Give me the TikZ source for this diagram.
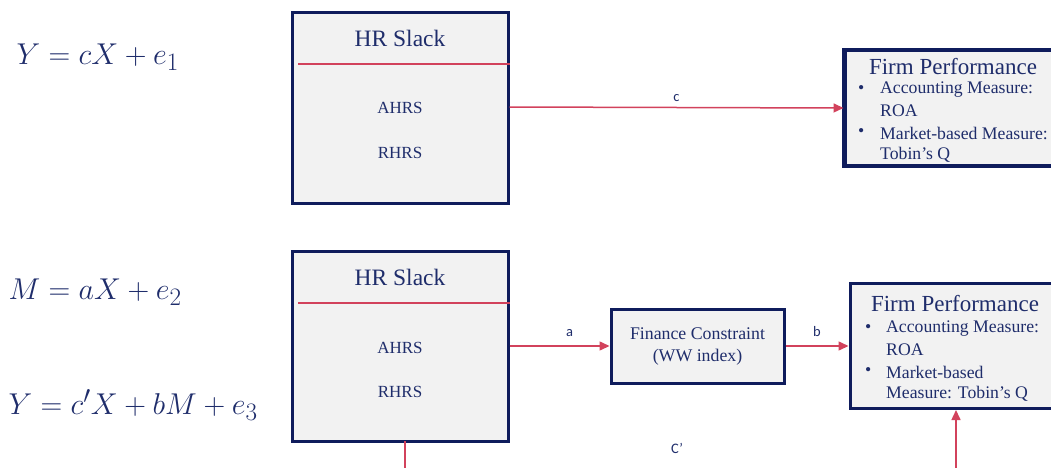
\documentclass[tikz,border=0pt]{standalone}
\usepackage{fontspec}
\setmainfont{Liberation Serif}
\newfontfamily\lblfont{Carlito}
\usetikzlibrary{arrows.meta}
\definecolor{navy}{HTML}{0F1C5C}
\definecolor{txt}{HTML}{1F2D6B}
\definecolor{redl}{HTML}{D2425C}
\definecolor{boxfill}{HTML}{F2F2F2}
\newcommand{\bigeq}[1]{\scalebox{1.21}{\Huge$#1$}}
\tikzset{
  box/.style={draw=navy, line width=3pt, fill=boxfill, rectangle, inner sep=0pt},
  conn/.style={draw=redl, line width=1.5pt, -{Triangle[length=10pt,width=9pt]}},
  redline/.style={draw=redl, line width=1.3pt},
  lbl/.style={text=txt, font=\lblfont\fontsize{14.5}{16}\selectfont},
  eq/.style={text=txt, anchor=west},
  ttl/.style={text=txt, font=\fontsize{23.5}{27}\selectfont},
  item/.style={text=txt, font=\fontsize{17}{20}\selectfont},
  fp/.style={text=txt, anchor=west, font=\fontsize{17.7}{20}\selectfont, inner sep=0pt},
  fpt/.style={text=txt, font=\fontsize{23}{26}\selectfont, inner sep=0pt},
}
\begin{document}
\begin{tikzpicture}[x=1pt,y=-1pt]
\useasboundingbox (0,0) rectangle (1051,468);
% equations
\node[eq] (eq1) at (13,57) {\bigeq{Y = cX + e_1}};
\node[eq] (eq2) at (5,292) {\bigeq{M = aX + e_2}};
\node[eq] (eq3) at (5,405) {\bigeq{Y = c'X + bM + e_3}};
% top HR slack box
\node[box, minimum width=216pt, minimum height=190pt] (hr1) at (400,108) {};
\coordinate (hr1l) at (298,64);
\draw[redline] (hr1l) -- (hr1l -| hr1.east);
\node[ttl] (hr1t) at (400,38) {HR Slack};
\node[item] (hr1a) at (400,108) {AHRS};
\node[item] (hr1r) at (400,153) {RHRS};
% top firm performance
\node[box, minimum width=220pt, minimum height=114pt] (fp1) at (955,108) {};
\node[fpt] (fp1t) at (953,67) {Firm Performance};
\node[fp] (fp1b1) at (858,90) {\textbullet};
\node[fp] (fp1a) at (880,90) {Accounting Measure:};
\node[fp] (fp1a2) at (880,111) {ROA};
\node[fp] (fp1b2) at (858,133) {\textbullet};
\node[fp] (fp1m) at (880,133) {Market-based Measure:};
\node[fp] (fp1m2) at (880,155) {Tobin’s Q};
\draw[box, fill=none] (fp1.north west) rectangle (fp1.south east);
\draw[conn] (hr1.east |- 0,107) -- (fp1.west) node[lbl, midway, above=2pt] (lc) {c};
% bottom HR slack box
\node[box, minimum width=216pt, minimum height=190pt] (hr2) at (400,346) {};
\coordinate (hr2l) at (298,303);
\draw[redline] (hr2l) -- (hr2l -| hr2.east);
\node[ttl] (hr2t) at (400,277) {HR Slack};
\node[item] (hr2a) at (400,348) {AHRS};
\node[item] (hr2r) at (400,392) {RHRS};
% finance constraint
\node[box, minimum width=173pt, minimum height=74pt, text=txt, align=center,
      font=\fontsize{17.8}{22}\selectfont] (fc) at (697.5,346) {Finance Constraint\\(WW index)};
% bottom firm performance
\node[box, minimum width=220pt, minimum height=125pt] (fp2) at (960,346) {};
\node[fpt] (fp2t) at (955,304) {Firm Performance};
\node[fp] (fp2b1) at (865,329) {\textbullet};
\node[fp] (fp2a) at (886,329) {Accounting Measure:};
\node[fp] (fp2a2) at (886,350) {ROA};
\node[fp] (fp2b2) at (865,372) {\textbullet};
\node[fp] (fp2m) at (886,372) {Market-based};
\node[fp] (fp2m2) at (886,394) {Measure: Tobin’s Q};
% connectors
\draw[conn] (hr2.east) -- (fc.west) node[lbl, midway, above=5pt, xshift=10pt] (la) {a};
\draw[conn] (fc.east) -- (fp2.west) node[lbl, midway, above=5pt] (lb) {b};
\coordinate (hr2s) at (405,441);
\coordinate (hr2e) at (405,470);
\draw[redline] (hr2s) -- (hr2e);
\coordinate (cpb) at (956,470);
\draw[conn] (cpb) -- (cpb |- fp2.south);
\node[lbl] (lcp) at (677,448) {C’};
\end{tikzpicture}
\end{document}
